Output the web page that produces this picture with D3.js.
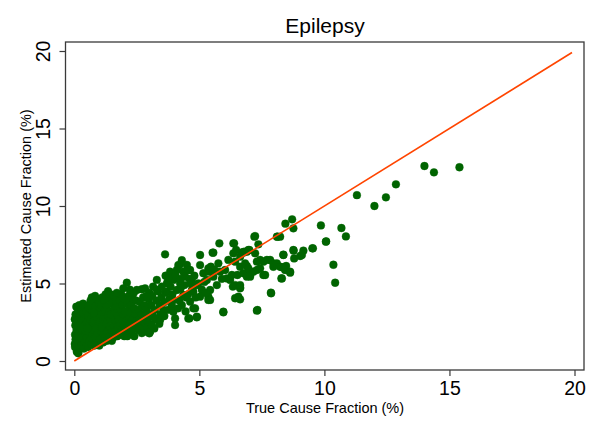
<!DOCTYPE html>
<html><head><meta charset="utf-8">
<script src="https://cdn.jsdelivr.net/npm/d3@7"></script>
<style>body{margin:0;background:#fff}svg{display:block}text{font-family:"Liberation Sans",Arial,Helvetica,sans-serif;fill:#000}</style>
</head><body><svg id="c" width="600" height="436"></svg>
<script>
const title = "Epilepsy";
const xLabel = "True Cause Fraction (%)";
const yLabel = "Estimated Cause Fraction (%)";
const xTicks = [0, 5, 10, 15, 20];
const yTicks = [0, 5, 10, 15, 20];
const lineRange = [0, 19.9];
// [true, estimated] cause fractions (%)
const points = [
[0.02,1.1],[0.03,1.7],[0.04,2.3],[0.02,2.7],[0.05,3.0],[0.08,3.5],[0.1,0.6],[0.12,0.9],[0.1,1.4],[0.09,2.0],[0.12,2.5],[0.15,3.3],[0.18,1.2],[0.2,1.8],[0.17,2.2],[0.22,2.9],[0.25,0.8],[0.05,1.4],[0.15,1.6],[0.2,3.6],[0.03,0.9],[0.07,2.6],[0.24,2.4],[0.16,0.5],
[0.3,1.0],[0.28,1.5],[0.33,2.0],[0.3,2.6],[0.35,3.1],[0.4,3.5],[0.42,1.2],[0.45,1.8],[0.4,2.3],[0.47,2.8],[0.38,0.8],[0.5,1.0],[0.48,3.2],[0.35,3.7],[0.44,2.0],[0.27,2.2],[0.5,1.5],[0.5,2.5],
[0.55,0.9],[0.6,1.3],[0.58,1.9],[0.62,2.4],[0.55,2.9],[0.6,3.4],[0.7,4.1],[0.68,1.1],[0.72,1.7],[0.7,2.2],[0.65,2.7],[0.73,3.2],[0.75,3.7],[0.65,3.9],[0.57,3.6],[0.75,1.4],[0.75,2.5],[0.52,2.1],
[0.8,1.0],[0.85,1.5],[0.82,2.0],[0.8,2.6],[0.88,3.0],[0.85,3.5],[0.9,4.0],[0.95,1.2],[0.93,1.8],[0.97,2.3],[0.92,2.8],[1.0,3.3],[0.98,3.8],[0.78,3.1],[0.9,2.1],[1.0,1.0],[0.83,4.2],
[1.05,1.4],[1.08,1.9],[1.03,2.5],[1.1,3.0],[1.07,3.6],[1.12,4.1],[1.15,1.2],[1.18,1.7],[1.2,2.2],[1.15,2.7],[1.22,3.3],[1.2,3.9],[1.25,4.3],[1.23,1.5],[1.1,2.2],[1.25,2.6],
[1.3,1.3],[1.32,1.9],[1.28,2.4],[1.35,2.9],[1.3,3.5],[1.38,4.0],[1.4,1.6],[1.42,2.2],[1.45,2.7],[1.4,3.2],[1.48,3.7],[1.45,4.3],[1.5,1.3],[1.5,2.0],[1.35,4.5],[1.47,3.0],
[1.55,1.5],[1.58,2.3],[1.55,2.9],[1.6,3.4],[1.56,4.26],[1.62,1.9],[1.65,2.6],[1.68,3.1],[1.7,3.7],[1.66,4.0],[1.72,1.6],[1.74,2.2],[1.75,2.9],[1.7,4.4],
[1.8,1.7],[1.83,2.3],[1.78,2.7],[1.85,3.3],[1.82,3.9],[1.88,4.3],[1.9,2.0],[1.93,2.6],[1.96,3.0],[1.92,3.6],[1.96,4.69],[2.0,1.6],[1.98,2.3],[1.95,4.1],
[2.05,1.9],[2.08,2.6],[2.03,3.2],[2.1,3.8],[2.1,5.05],[2.12,1.6],[2.15,2.2],[2.18,2.9],[2.2,3.5],[2.17,4.2],[2.22,4.6],[2.25,1.8],[2.25,2.5],[2.23,3.1],
[2.3,2.0],[2.33,2.7],[2.28,3.6],[2.35,4.0],[2.4,1.6],[2.42,2.3],[2.45,3.0],[2.4,3.4],[2.48,3.9],[2.5,4.58],[2.5,2.6],[2.38,4.4],
[2.56,2.13],[2.56,2.0],[2.6,2.7],[2.58,3.3],[2.62,3.8],[2.7,4.63],[2.65,2.4],[2.68,3.0],[2.72,3.5],[2.75,4.1],[2.7,1.8],[2.75,2.2],
[2.8,2.5],[2.83,4.69],[2.85,3.0],[2.82,3.6],[2.9,1.89],[2.92,2.2],[2.95,2.8],[2.9,3.3],[2.98,4.0],[3.0,4.4],[2.88,4.2],[3.0,1.79],
[3.05,2.4],[3.1,3.0],[3.08,3.6],[3.12,4.2],[3.15,4.8],[3.2,2.1],[3.25,2.7],[3.22,3.3],[3.28,3.9],[3.3,5.23],[3.35,4.5],[3.4,2.4],[3.43,2.65],[3.45,3.0],[3.42,3.6],[3.48,4.1],[3.5,4.8],[3.3,4.6],[3.16,2.86],[3.03,1.89],[3.1,2.32],
[3.55,2.9],[3.56,3.29],[3.6,3.8],[3.63,4.4],[3.7,5.01],[3.63,6.88],[3.65,5.5],[3.7,4.47],[3.75,3.3],[3.8,4.0],[3.83,5.76],[3.85,4.8],[3.9,3.6],[3.96,3.18],[3.96,3.94],[3.96,5.23],[3.92,4.3],[3.88,5.4],[3.6,2.9],
[4.03,2.32],[4.03,2.75],[4.1,4.58],[4.1,5.87],[4.16,6.19],[4.2,6.19],[4.23,5.01],[4.3,3.61],[4.36,4.26],[4.36,5.76],[4.43,5.44],[4.2,3.9],[4.45,3.2],[4.4,4.9],[4.25,4.7],[4.15,3.4],[4.48,4.1],
[4.3,6.5],[4.5,6.2],[4.05,5.5],[4.6,5.3],[3.75,5.2],[4.25,5.3],
[4.56,2.75],[4.6,2.75],[4.63,3.83],[4.63,5.87],[4.56,5.87],[4.7,4.58],[4.7,5.23],[4.76,4.47],[4.76,3.4],[4.83,3.4],[4.9,2.86],[4.9,4.9],[4.96,5.01],[4.9,2.82],[4.55,4.3],[4.8,5.5],[4.85,4.1],[4.65,5.0],
[5.03,6.84],[5.03,6.19],[5.03,4.15],[5.16,5.66],[5.36,5.76],[5.36,4.15],[5.43,3.94],[5.36,5.98],[5.3,5.23],[5.43,4.58],[5.46,6.08],[5.36,3.94],[5.1,4.6],[5.2,5.1],[5.25,4.4],
[5.53,6.99],[5.56,6.99],[5.56,5.44],[5.76,6.3],[5.8,7.59],[5.83,5.76],[5.96,3.18],[5.96,3.14],[5.6,5.9],[5.7,4.9],[5.9,5.3],
[6.03,5.87],[6.1,5.33],[6.16,6.52],[6.23,5.23],[6.3,5.55],[6.34,4.8],[6.36,7.59],[6.39,7.59],[6.36,6.95],[6.43,6.41],[6.43,4.9],[6.43,4.05],[6.47,7.16],
[6.52,5.55],[6.56,4.15],[6.63,6.73],[6.63,6.08],[6.63,4.9],[6.63,4.69],[6.63,4.75],[6.63,3.98],[6.7,7.01],[6.76,6.99],[6.76,5.66],[6.79,7.05],[6.83,6.3],[6.9,7.05],[6.9,6.13],[6.9,5.44],[6.96,7.16],[6.96,5.98],
[7.0,7.16],[7.03,5.55],[7.03,5.44],[7.16,5.76],[7.2,8.02],[7.23,8.06],[7.23,6.95],[7.3,6.41],[7.3,5.87],[7.3,3.25],[7.32,3.29],[7.36,7.53],[7.43,5.98],[7.43,6.52],
[7.56,6.41],[7.56,5.55],[7.63,5.55],[7.7,6.52],[7.83,6.52],[7.86,4.41],[7.87,4.37],[7.96,6.08],[7.96,6.3],
[8.1,8.02],[8.13,8.02],[8.1,6.3],[8.23,6.08],[8.23,8.02],[8.28,5.33],[8.3,6.05],[8.3,5.33],[8.36,6.86],[8.36,6.84],[8.43,5.87],[8.44,8.86],[8.47,6.13],
[8.63,5.7],[8.63,5.76],[8.71,9.14],[8.76,8.56],[8.76,7.16],[8.77,7.12],[8.79,6.62],[9.03,6.77],[9.1,6.84],[9.16,7.12],[9.52,7.27],[9.54,7.27],[9.86,8.75],[10.06,7.7],[10.07,7.72],[10.36,6.21],[10.43,5.05],[10.68,8.58],[10.86,8.04],[11.3,10.7],[12.0,10.0],[12.46,10.56],[12.86,11.4],[14.0,12.58],[14.38,12.17],[15.4,12.5]
];

const svg = d3.select("#c");
const box = {l: 65.5, r: 584, t: 42, b: 370};
const x = d3.scaleLinear().domain([0, 20]).range([74.3, 574.5]);
const y = d3.scaleLinear().domain([0, 20]).range([361, 51]);

svg.append("rect").attr("x", box.l).attr("y", box.t).attr("width", box.r - box.l).attr("height", box.b - box.t)
  .attr("fill", "#fff").attr("stroke", "#3a3a3a").attr("stroke-width", 1.3);

// x axis
const xAxis = svg.append("g").attr("transform", `translate(0,${box.b})`)
  .call(d3.axisBottom(x).tickValues(xTicks).tickSize(6).tickPadding(6).tickFormat(d3.format("d")));
xAxis.select(".domain").remove();
xAxis.selectAll("line").attr("stroke", "#3a3a3a").attr("stroke-width", 1.2);
xAxis.selectAll("text").attr("font-size", "19.5px").attr("fill", "#000")
  .attr("font-family", "Liberation Sans, Arial, sans-serif").attr("dy", null).attr("y", 25);

// y axis
const yAxis = svg.append("g").attr("transform", `translate(${box.l},0)`)
  .call(d3.axisLeft(y).tickValues(yTicks).tickSize(6).tickFormat(d3.format("d")));
yAxis.select(".domain").remove();
yAxis.selectAll("line").attr("stroke", "#3a3a3a").attr("stroke-width", 1.2);
yAxis.selectAll("text").attr("font-size", "19.5px").attr("fill", "#000")
  .attr("font-family", "Liberation Sans, Arial, sans-serif")
  .attr("x", null).attr("dy", null).attr("text-anchor", "middle")
  .attr("transform", "translate(-15.5,0) rotate(-90)");

// points
svg.append("g").selectAll("circle").data(points).join("circle")
  .attr("cx", d => x(d[0])).attr("cy", d => y(d[1])).attr("r", 3.9)
  .attr("fill", "#006400").attr("stroke", "#006400").attr("stroke-width", 0.4);

// reference line
svg.append("line").attr("x1", x(lineRange[0])).attr("y1", y(lineRange[0]))
  .attr("x2", x(lineRange[1])).attr("y2", y(lineRange[1]))
  .attr("stroke", "#ff4500").attr("stroke-width", 1.6);

// titles
svg.append("text").attr("x", 325).attr("y", 33).attr("text-anchor", "middle").attr("font-size", "21px").text(title);
svg.append("text").attr("x", 325).attr("y", 413).attr("text-anchor", "middle").attr("font-size", "14.5px").text(xLabel);
svg.append("text").attr("transform", "translate(31,206) rotate(-90)").attr("text-anchor", "middle").attr("font-size", "14.5px").text(yLabel);
</script></body></html>
